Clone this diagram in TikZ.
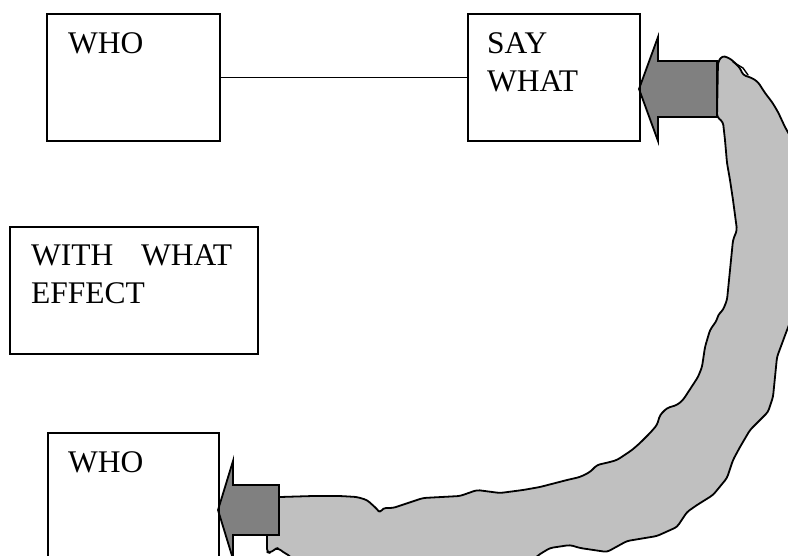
\documentclass[tikz,border=0pt]{standalone}
\usepackage{fontspec}
\setmainfont{Liberation Serif}
\definecolor{bandgray}{RGB}{192,192,192}
\definecolor{arrowgray}{RGB}{128,128,128}
\tikzset{
	box/.style={draw,line width=2pt,minimum width=#1,minimum height=127pt,inner sep=0pt},
	word/.style={anchor=base west,inner sep=0pt,font=\fontsize{31.5pt}{38pt}\selectfont},
	blockarrow/.style={draw,fill=arrowgray,line width=1.8pt,line join=miter},
}
\begin{document}
\begin{tikzpicture}[x=1pt,y=-1pt]
	\useasboundingbox (0,0) rectangle (788,555);
	\begin{scope}
	\clip (0,0) rectangle (788,555);

	% BAND
	\draw[fill=bandgray,line width=1.8pt,line join=round,rounded corners=3pt]
		(718,62) -- (722,56) -- (727,57) -- (732,60) -- (740,68) -- (743,75) -- (752,78)
		-- (758,82) -- (765,93) -- (772,102) -- (778,112) -- (785,127) -- (795,145)
		-- (800,230) -- (795,310) -- (787,330) -- (777,357) -- (773,397) -- (768,412)
		-- (750,430) -- (740,447) -- (733,460) -- (727,478) -- (713,495) -- (697,505)
		-- (687,512) -- (677,527) -- (657,536) -- (627,541) -- (607,552) -- (580,548)
		-- (570,545) -- (550,548) -- (540,554) -- (520,570) -- (300,570) -- (290,556)
		-- (283,552) -- (278,548) -- (275,549) -- (270,553) -- (267,552) -- (267,535)
		-- (270,497) -- (280,497) -- (313,496) -- (340,496) -- (357,497) -- (367,500)
		-- (377,509) -- (380,513) -- (383,508) -- (393,508) -- (423,498) -- (460,496)
		-- (477,490) -- (500,493) -- (523,490) -- (540,487) -- (567,480) -- (580,477)
		-- (590,472) -- (597,465) -- (610,462) -- (617,460) -- (632,450) -- (640,443)
		-- (650,433) -- (657,425) -- (660,415) -- (667,408) -- (677,405) -- (683,400)
		-- (698,377) -- (702,367) -- (705,347) -- (710,330) -- (717,320) -- (718,315)
		-- (723,310) -- (727,300) -- (730,270) -- (733,240) -- (737,230) -- (733,200)
		-- (730,180) -- (727,163) -- (725,140) -- (723,122) -- (717,117) -- cycle;
	\draw[line width=1.4pt,line cap=round] (733,62) -- (743,68) -- (748,75);

	% ARROWS
	\draw[blockarrow] (639,89) -- (658,37) -- (658,61) -- (717,61) -- (717,117)
		-- (658,117) -- (658,141) -- cycle;
	\draw[blockarrow] (218,510) -- (233,461) -- (233,485) -- (279,485) -- (279,535)
		-- (233,535) -- (233,559) -- cycle;

	% BOXES
	\node[box=173pt,anchor=north west] (who) at (46,13) {};
	\node[box=172pt,anchor=north west] (saywhat) at (467,13) {};
	\node[box=248pt,anchor=north west] (effect) at (9,226) {};
	\node[box=171pt,anchor=north west] (whom) at (47,432) {};
	\draw[line width=1.5pt] (who.east) -- (saywhat.west);

	% TEXTS
	\node[word] (whotext) at (68,53) {WHO};
	\node[word] (saytext) at (487,53) {\vtop{\hbox{SAY}\hbox{WHAT}}};
	\node[word] (effecttext) at (31,265) {\vtop{\hbox to 201pt{WITH\hfill WHAT}\hbox{EFFECT}}};
	\node[word] (whomtext) at (68,472) {WHO};
	\end{scope}
\end{tikzpicture}
\end{document}
